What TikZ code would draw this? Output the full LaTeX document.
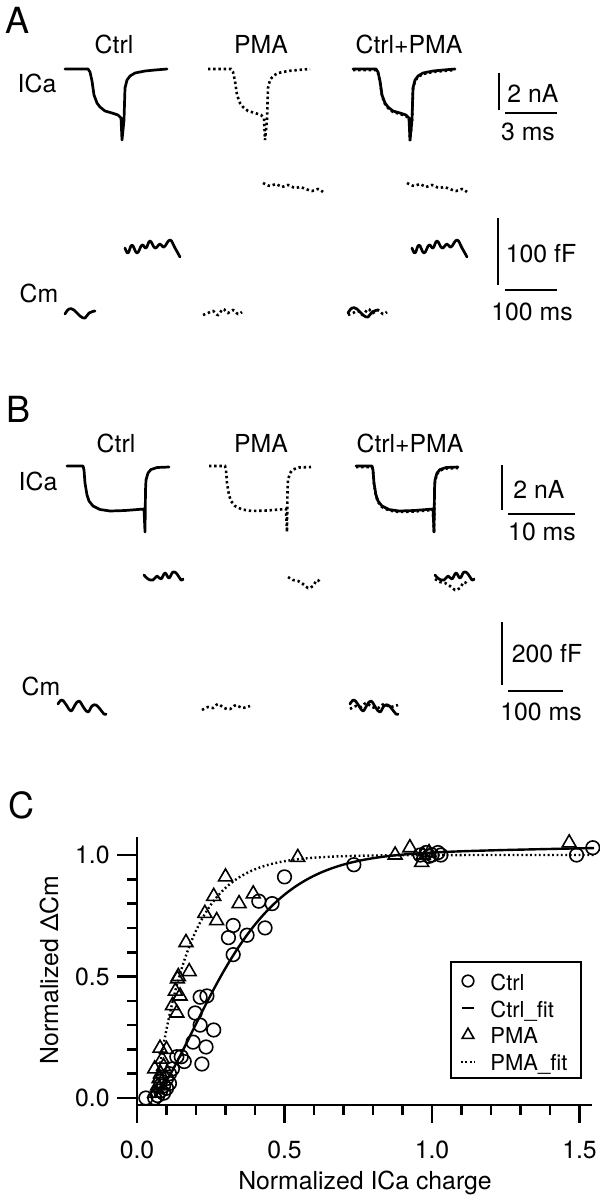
\documentclass[tikz,border=0pt]{standalone}
\usepackage{fontspec}
\setmainfont{TeX Gyre Heros}
\usetikzlibrary{plotmarks}

\begin{document}
\begin{tikzpicture}[x=0.5pt, y=-0.5pt,
    every node/.style={inner sep=0pt, font=\fontsize{12.4}{14}\selectfont},
    lbl/.style={anchor=base},
    lgd/.style={anchor=base west, font=\fontsize{11}{13}\selectfont},
    panel/.style={anchor=base, font=\fontsize{18}{20}\selectfont},
    trace/.style={line width=1.35pt, line join=round, line cap=round},
    dottrace/.style={line width=1.3pt, dash pattern=on 1.2pt off 1.4pt},
    bar/.style={line width=1.4pt},
    axisline/.style={line width=1.3pt},
    fitsolid/.style={line width=1.2pt},
    fitdot/.style={line width=1.2pt, dash pattern=on 0.9pt off 1.3pt},
    mk/.style={line width=0.8pt},
    % current traces
    pics/icaA/.style={code={\draw[#1] (0,0) -- (23,0) -- (25,3) -- (27,12) -- (29,26) -- (32,34) -- (35,38) -- (40,42) -- (47,44) -- (53,46) -- (56,49) -- (57,71) -- (59,51) -- (60,19) -- (62,11) -- (65,7) -- (70,4) -- (80,2) -- (90,1) -- (102,0);}},
    pics/icaB/.style={code={\draw[#1] (0,0) -- (16,0) -- (17,4) -- (18,17) -- (20,29) -- (22,35) -- (26,40) -- (33,43.5) -- (43,45) -- (58,44.5) -- (77,43) -- (78,66) -- (78.5,24) -- (79,14) -- (81,7) -- (84,3.5) -- (90,1.5) -- (102,1);}},
    % capacitance traces
    pics/cmCtrlBefA/.style={code={\draw[#1] plot[smooth, tension=0.7] coordinates {(0,0) (4,-5) (9,-4) (15,2) (20,4) (24,-1) (30,-3)};}},
    pics/cmCtrlAftA/.style={code={\draw[#1] plot[smooth, tension=0.7] coordinates {(0,0) (3,5) (7,-3) (12,5) (17,-3) (21,0) (25,-7) (30,0) (35,-4) (39,-1) (45,-8) (50,0) (55,9)};}},
    pics/cmPmaBefA/.style={code={\draw[#1] plot[smooth] coordinates {(0,0) (5,-2) (10,-4) (15,0) (20,-6) (25,-2) (30,-5) (35,-1) (39,-3)};}},
    pics/cmPmaAftA/.style={code={\draw[#1] plot[smooth] coordinates {(0,0) (7,3) (13,1) (19,4) (25,2) (32,5) (37,4) (43,6) (49,8) (55,6) (60,9)};}},
    pics/cmCtrlBefB/.style={code={\draw[#1] plot[smooth, tension=0.7] coordinates {(0,0) (4,-4) (9,2) (13,7) (17,1) (21,-3) (26,4) (30,8) (34,2) (38,1) (42,5) (46,10) (48,10)};}},
    pics/cmCtrlAftB/.style={code={\draw[#1] plot[smooth, tension=0.7] coordinates {(0,0) (4,4) (9,5) (13,1) (17,4) (21,-2) (25,3) (29,-3) (33,-1) (37,5) (39,4)};}},
    pics/cmPmaBefB/.style={code={\draw[#1] plot[smooth] coordinates {(0,0) (6,-3) (11,-2) (16,-6) (22,-2) (28,-1) (34,-5) (40,-2) (48,-4)};}},
    pics/cmPmaAftB/.style={code={\draw[#1] plot[smooth] coordinates {(0,0) (5,3) (10,4) (15,7) (20,11) (25,9) (29,3) (33,6)};}}
]
\useasboundingbox (0,0) rectangle (600,1200);

% Panel A
\node[panel] (pA) at (18,33) {A};
\node[lbl] (hCtrlA) at (114,53) {Ctrl};
\node[lbl] (hPmaA) at (261,53) {PMA};
\node[lbl] (hBothA) at (409,53) {Ctrl+PMA};
\node[lbl] (icaA) at (37,92) {ICa};
\node[lbl] (cmA) at (39,302) {Cm};

\pic at (65,69) {icaA=trace};
\pic at (208,69) {icaA=dottrace};
\pic at (353,69) {icaA=trace};
\pic at (353,70) {icaA=dottrace};

\pic at (65,314) {cmCtrlBefA=trace};
\pic at (125,248) {cmCtrlAftA=trace};
\pic at (203,315) {cmPmaBefA=dottrace};
\pic at (263,183) {cmPmaAftA=dottrace};
\pic at (348,313) {cmCtrlBefA=trace};
\pic at (348,315) {cmPmaBefA=dottrace};
\pic at (412,248) {cmCtrlAftA=trace};
\pic at (407,183) {cmPmaAftA=dottrace};

% scale bars A
\draw[bar] (499,73) -- (499,110);
\draw[bar] (505,113) -- (557,113);
\node[lbl] (nA1) at (533,102) {2 nA};
\node[lbl] (msA1) at (528,140) {3 ms};
\draw[bar] (498,218) -- (498,285);
\draw[bar] (505,290) -- (557,290);
\node[lbl] (fFA) at (541,262) {100 fF};
\node[lbl] (msA2) at (532,320) {100 ms};

% Panel B
\node[panel] (pB) at (19,422) {B};
\node[lbl] (hCtrlB) at (116,452) {Ctrl};
\node[lbl] (hPmaB) at (261,452) {PMA};
\node[lbl] (hBothB) at (410,452) {Ctrl+PMA};
\node[lbl] (icaB) at (38,490) {ICa};
\node[lbl] (cmB) at (41,695) {Cm};

\pic at (67,466) {icaB=trace};
\pic at (209,466) {icaB=dottrace};
\pic at (356,466) {icaB=trace};
\pic at (356,467) {icaB=dottrace};

\pic at (58,704) {cmCtrlBefB=trace};
\pic at (144,575) {cmCtrlAftB=trace};
\pic at (202,710) {cmPmaBefB=dottrace};
\pic at (288,577) {cmPmaAftB=dottrace};
\pic at (350,704) {cmCtrlBefB=trace};
\pic at (350,709) {cmPmaBefB=dottrace};
\pic at (435,575) {cmCtrlAftB=trace};
\pic at (435,579) {cmPmaAftB=dottrace};

% scale bars B
\draw[bar] (502,465) -- (502,510);
\draw[bar] (508,514) -- (575,514);
\node[lbl] (nB1) at (539,498) {2 nA};
\node[lbl] (msB1) at (542,540) {10 ms};
\draw[bar] (502,622) -- (502,685);
\draw[bar] (508,691) -- (563,691);
\node[lbl] (fFB) at (547,662) {200 fF};
\node[lbl] (msB2) at (541,720) {100 ms};

% Panel C
\node[panel] (pC) at (21,818) {C};
\node[lbl] (xtitle) at (365,1189) {Normalized ICa charge};
\node[lbl, rotate=90] (ytitle) at (58,970) {Normalized ΔCm};

\begin{scope}[shift={(137,1098)}, x=147.5pt, y=121.5pt]
  % axes and ticks
  \draw[axisline] (0,1.074) -- (0,-0.099);
  \draw[axisline] (0,-0.029) -- (1.542,-0.029);
  \foreach \i in {0,...,15} \draw[axisline] (\i/10,-0.029) -- ++(0pt,-5pt);
  \foreach \i in {0,5,10,15} \draw[axisline] (\i/10,-0.029) -- ++(0pt,-9pt);
  \foreach \i in {0,...,10} \draw[axisline] (0,\i/10) -- ++(-5pt,0pt);
  \foreach \i in {0,5,10} \draw[axisline] (0,\i/10) -- ++(-10pt,0pt);
  \foreach \i/\t in {0/0.0,5/0.5,10/1.0,15/1.5}
    \node[lbl] (xt\i) at (\i/10,-0.247) {\t};
  \foreach \i/\t in {0/0.0,5/0.5,10/1.0}
    \node[anchor=east] (yt\i) at (-0.0915,\i/10) {\t};

  % fits
  \draw[fitsolid] plot[domain=0.06:1.55, samples=150, smooth] (\x,{(1-exp(-1*pow((\x-0.05)/0.3,1.45)))*(0.99+0.025*\x)});
  \draw[fitdot] plot[domain=0.06:1.55, samples=150] (\x,{1-exp((0.06-\x)/0.12)});

  % Ctrl data
  \draw[mk] plot[only marks, mark=o, mark size=3.4pt] coordinates {
    (0.03,0.0) (0.06,0.0) (0.07,0.01) (0.08,0.03) (0.09,0.05) (0.10,0.04)
    (0.08,0.07) (0.10,0.08) (0.11,0.10) (0.12,0.12) (0.09,0.02) (0.11,0.06)
    (0.135,0.17) (0.15,0.17) (0.16,0.15) (0.22,0.14) (0.234,0.21) (0.19,0.23)
    (0.26,0.28) (0.214,0.30) (0.197,0.35) (0.214,0.415) (0.237,0.42)
    (0.326,0.59) (0.31,0.66) (0.373,0.67) (0.326,0.71) (0.434,0.70)
    (0.413,0.81) (0.458,0.80) (0.50,0.91) (0.735,0.96) (0.96,1.0) (0.98,1.01)
    (1.0,1.0) (1.02,1.01) (1.03,1.0) (0.99,0.995) (1.49,1.0) (1.545,1.03)};
  % PMA data
  \draw[mk] plot[only marks, mark=triangle, mark size=4pt] coordinates {
    (0.06,0.02) (0.07,0.05) (0.075,0.08) (0.08,0.1) (0.06,0.12) (0.09,0.13)
    (0.085,0.16) (0.078,0.205) (0.10,0.20) (0.12,0.38) (0.135,0.35)
    (0.13,0.44) (0.146,0.42) (0.14,0.50) (0.137,0.49) (0.177,0.52)
    (0.166,0.64) (0.27,0.73) (0.23,0.76) (0.26,0.83) (0.346,0.80)
    (0.394,0.84) (0.30,0.91) (0.545,0.99) (0.875,1.0) (0.925,1.03)
    (0.965,0.97) (0.97,1.0) (0.99,1.01) (1.465,1.05)};
\end{scope}

% legend
\draw[line width=0.9pt] (451,962) rectangle (581,1078);
\draw[mk] plot[only marks, mark=o, mark size=2.9pt] coordinates {(468,981)};
\node[lgd] (lgCtrl) at (490,990) {Ctrl};
\draw[fitsolid] (462,1008) -- (474,1008);
\node[lgd] (lgCtrlFit) at (490,1017) {Ctrl\_fit};
\draw[mk] plot[only marks, mark=triangle, mark size=3.4pt] coordinates {(468,1035)};
\node[lgd] (lgPma) at (490,1043) {PMA};
\draw[fitdot] (461,1062) -- (475,1062);
\node[lgd] (lgPmaFit) at (490,1070) {PMA\_fit};
\end{tikzpicture}
\end{document}
